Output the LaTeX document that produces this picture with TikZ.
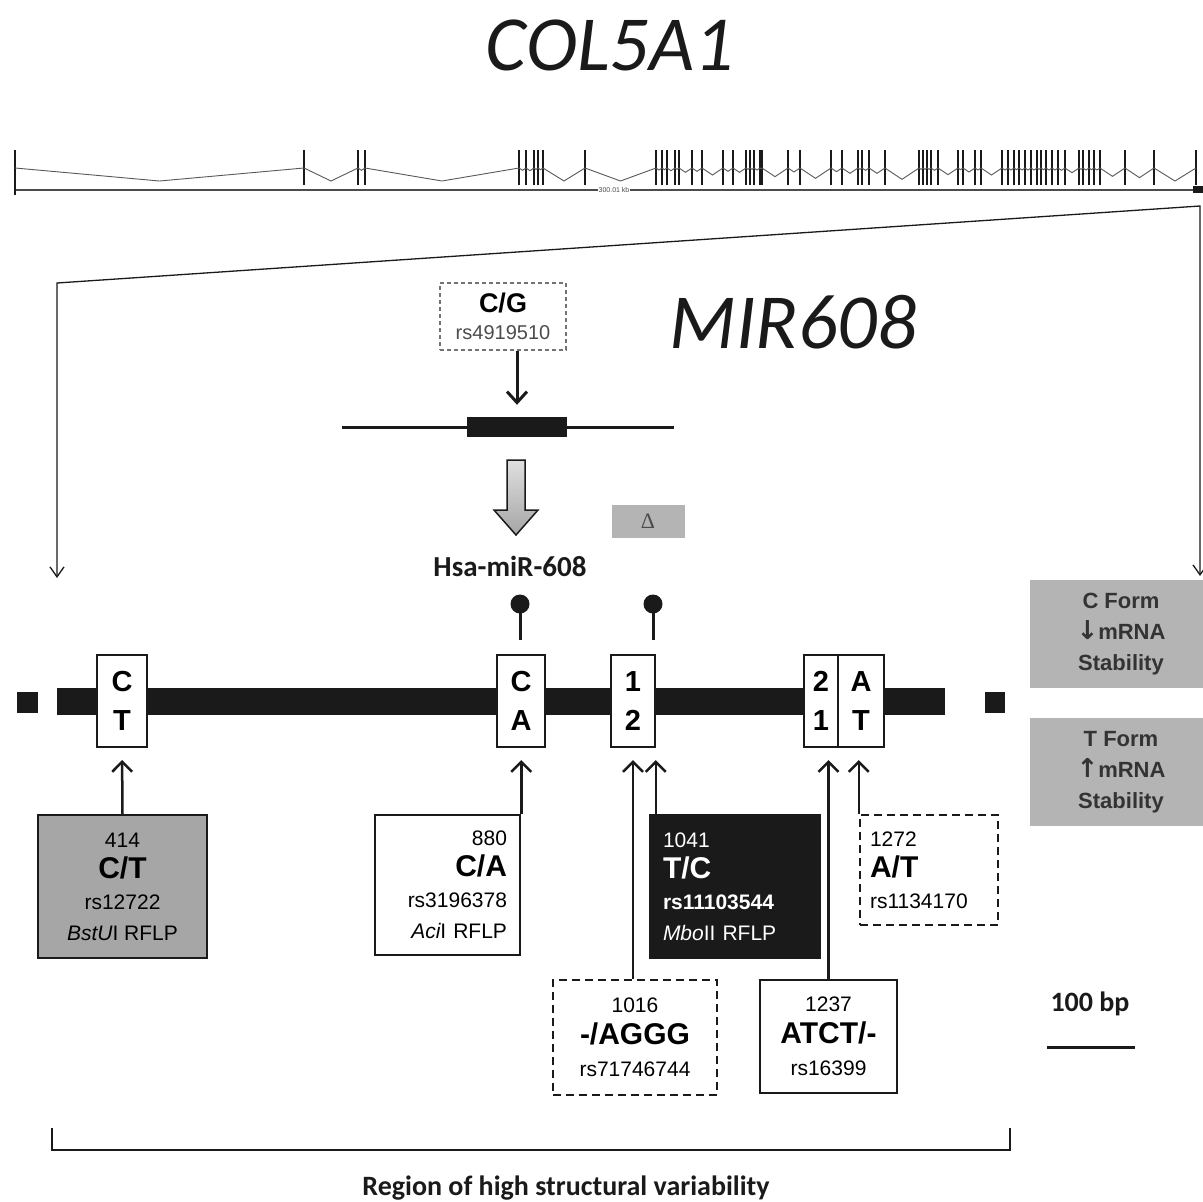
\documentclass[tikz,border=0pt]{standalone}
\usepackage{fontspec}
\setmainfont{Liberation Sans}
\newfontfamily\calibri{Carlito}
\newfontfamily\dejavu{DejaVu Sans}
\newfontfamily\lserif{Liberation Serif}
\usetikzlibrary{arrows.meta,calc}
\definecolor{boxgray}{HTML}{A6A6A6}
\definecolor{lightbox}{HTML}{B4B4B4}
\definecolor{ink}{HTML}{1A1A1A}
\tikzset{
  locus/.style={draw=ink, line width=2pt, fill=white, minimum height=92pt, inner sep=0pt,
    align=center, font=\bfseries\fontsize{29}{39}\selectfont},
  upar/.style={draw=ink, line width=2.5pt, shorten >=12pt,
    -{Straight Barb[length=10pt,width=20pt,line width=2.5pt]}},
  infobox/.style={draw=ink, line width=2.5pt, inner sep=0pt, font=\fontsize{21}{31}\selectfont},
  dashbox/.style={infobox, dash pattern=on 8pt off 5pt},
  thinarr/.style={draw=ink, line width=1.3pt, {Straight Barb[length=10pt,width=14pt,line width=1.3pt]}-{Straight Barb[length=10pt,width=14pt,line width=1.3pt]}},
  formbox/.style={fill=lightbox, minimum width=182pt, minimum height=108pt, inner sep=0pt,
    align=center, text=black!80, font=\bfseries\fontsize{22}{31}\selectfont},
  gtick/.style={draw=ink, line width=2pt},
}
\begin{document}
\begin{tikzpicture}[x=1pt,y=-1pt]
\useasboundingbox (0,0) rectangle (1203,1202);
\fill[white] (0,0) rectangle (1203,1202);

% titles
\node[font=\calibri\itshape\fontsize{78}{80}\selectfont, text=ink] (title) at (610,45) {COL5A1};
\node[font=\calibri\itshape\fontsize{78}{80}\selectfont, text=ink] (mir) at (793,322) {MIR608};

% gene track
\draw[black!70, line width=1.2pt] (15,190) -- (1195,190);
\node[fill=white, inner sep=1pt, font=\fontsize{7}{8}\selectfont, text=black!70] (kb) at (614,190) {300.01 kb};
\fill[ink] (1193,186) rectangle (1203,193);
\draw[gtick] (15,150) -- (15,195);
\foreach \x [remember=\x as \lastx (initially 15)] in {304,358,365,519,526,534,538,543,585,656,662,667,675,679,692,702,723,733,746,750,754,760,762,788,800,831,842,858,862,869,885,919,923,927,931,938,958,963,975,981,1002,1008,1014,1019,1025,1031,1037,1041,1046,1052,1058,1065,1079,1083,1089,1094,1100,1125,1154,1196}{
  \draw[gtick] (\x,150) -- (\x,185);
  \draw[black!65, line width=0.9pt] (\lastx,168) -- ({(\lastx+\x)/2},{168+min(13,(\x-\lastx)/3)}) -- (\x,168);
}

% projection lines
\coordinate (pl) at (57,283);
\coordinate (pr) at (1200,206);
\coordinate (pla) at (57,578);
\coordinate (pra) at (1200,576);
\draw[thinarr] (pla) -- (pl) -- (pr) -- (pra);

% rs4919510 and miR gene
\node[draw=black!55, dash pattern=on 4pt off 3pt, line width=1.3pt, minimum width=126pt, minimum height=67pt,
  inner sep=0pt, align=center, font=\fontsize{20}{28}\selectfont] (cg) at (503,316.5)
  {{\bfseries\fontsize{27}{28}\selectfont C/G}\\[-1pt]\textcolor{black!70}{rs4919510}};
\draw[ink, line width=3pt] (342,427) -- (674,427);
\node[fill=ink, minimum width=100pt, minimum height=20pt, inner sep=0pt] (mirex) at (517,427) {};
\draw[ink, line width=3pt, shorten >=12pt, -{Straight Barb[length=11pt,width=20pt,line width=3pt]}]
  (cg.south -| mirex.north) -- (mirex.north);

% block arrow
\draw[ink, line width=1.5pt, top color=gray!25, bottom color=gray!70]
  (507,460) -- (525,460) -- (525,510) -- (538,510) -- (516,535) -- (494,510) -- (507,510) -- cycle;
\node[fill=lightbox, minimum width=73pt, minimum height=33pt, inner sep=0pt,
  font=\lserif\fontsize{22}{24}\selectfont, text=black!70] (delta) at (648,521) {Δ};
\node[font=\calibri\bfseries\fontsize{29}{30}\selectfont, text=ink] (hsa) at (510,566) {Hsa-miR-608};

% lollipops
\draw[ink, line width=3pt] (520,640) -- (520,608);
\fill[ink] (520,604) circle (9.5);
\draw[ink, line width=3pt] (653,640) -- (653,608);
\fill[ink] (653,604) circle (9.5);

% main bar
\fill[ink] (17,692) rectangle (38,713);
\fill[ink] (57,688) rectangle (945,715);
\fill[ink] (985,692) rectangle (1005,713);

% loci
\node[locus, minimum width=50pt] (lCT) at (122,701) {C\\T};
\node[locus, minimum width=48pt] (lCA) at (521,701) {C\\A};
\node[locus, minimum width=44pt] (l12) at (633,701) {1\\2};
\node[locus, minimum width=34pt] (l21) at (821,701) {2\\1};
\node[locus, minimum width=46pt] (lAT) at (861,701) {A\\T};

% info boxes
\node[infobox, fill=boxgray, minimum width=169pt, minimum height=143pt, align=center] (b414) at (122.5,886.5)
  {414\\{\bfseries\fontsize{30}{31}\selectfont C/T}\\rs12722\\{\itshape BstU}I RFLP};
\node[infobox, fill=white, minimum width=145pt, minimum height=140pt, text width=119pt, align=right] (b880) at (447.5,885)
  {880\\{\bfseries\fontsize{30}{31}\selectfont C/A}\\rs3196378\\{\itshape Aci}I RFLP};
\node[infobox, fill=ink, text=white, minimum width=170pt, minimum height=143pt, text width=144pt, align=left] (b1041) at (735,886.5)
  {1041\\{\bfseries\fontsize{30}{31}\selectfont T/C}\\{\bfseries rs11103544}\\{\itshape Mbo}II RFLP};
\node[dashbox, fill=white, minimum width=138pt, minimum height=110pt, text width=118pt, align=left] (b1272) at (929,870)
  {1272\\{\bfseries\fontsize{30}{31}\selectfont A/T}\\rs1134170};
\node[dashbox, fill=white, minimum width=164pt, minimum height=115pt, align=center, font=\fontsize{21}{32}\selectfont] (b1016) at (635,1037.5)
  {1016\\{\bfseries\fontsize{30}{32}\selectfont -/AGGG}\\rs71746744};
\node[infobox, fill=white, minimum width=137pt, minimum height=113pt, align=center, font=\fontsize{21}{32}\selectfont] (b1237) at (828.5,1036.5)
  {1237\\{\bfseries\fontsize{30}{32}\selectfont ATCT/-}\\rs16399};

% arrows to loci
\draw[upar] (b414.north) -- (lCT.south);
\draw[upar] (b880.north east) -- (b880.north east |- lCA.south);
\draw[upar] ([xshift=-2pt]b1016.north) -- ([xshift=-2pt]b1016.north |- l12.south);
\draw[upar] ([xshift=7pt]b1041.north west) -- ([xshift=7pt]b1041.north west |- l12.south);
\draw[upar] (b1237.north) -- (b1237.north |- l21.south);
\draw[upar] (b1272.north west) -- (b1272.north west |- lAT.south);

% form boxes
\node[formbox] (cform) at (1121,634) {C Form\\{\dejavu\bfseries\fontsize{26}{31}\selectfont ↓}mRNA\\Stability};
\node[formbox] (tform) at (1121,772) {T Form\\{\dejavu\bfseries\fontsize{26}{31}\selectfont ↑}mRNA\\Stability};

% scale
\node[font=\calibri\bfseries\fontsize{28}{30}\selectfont, text=ink, anchor=base] (bp) at (1090,1011) {100 bp};
\coordinate (s1) at (1047,1047);
\coordinate (s2) at (1135,1047);
\draw[ink, line width=3pt] (s1) -- (s2);

% region bracket
\coordinate (r1) at (52,1128);
\coordinate (r2) at (1010,1128);
\draw[ink, line width=1.8pt] (r1) -- (52,1150) -- (1010,1150) -- (r2);
\node[font=\calibri\bfseries\fontsize{28}{30}\selectfont, text=ink, anchor=base] (region) at (566,1195) {Region of high structural variability};
\end{tikzpicture}
\end{document}
